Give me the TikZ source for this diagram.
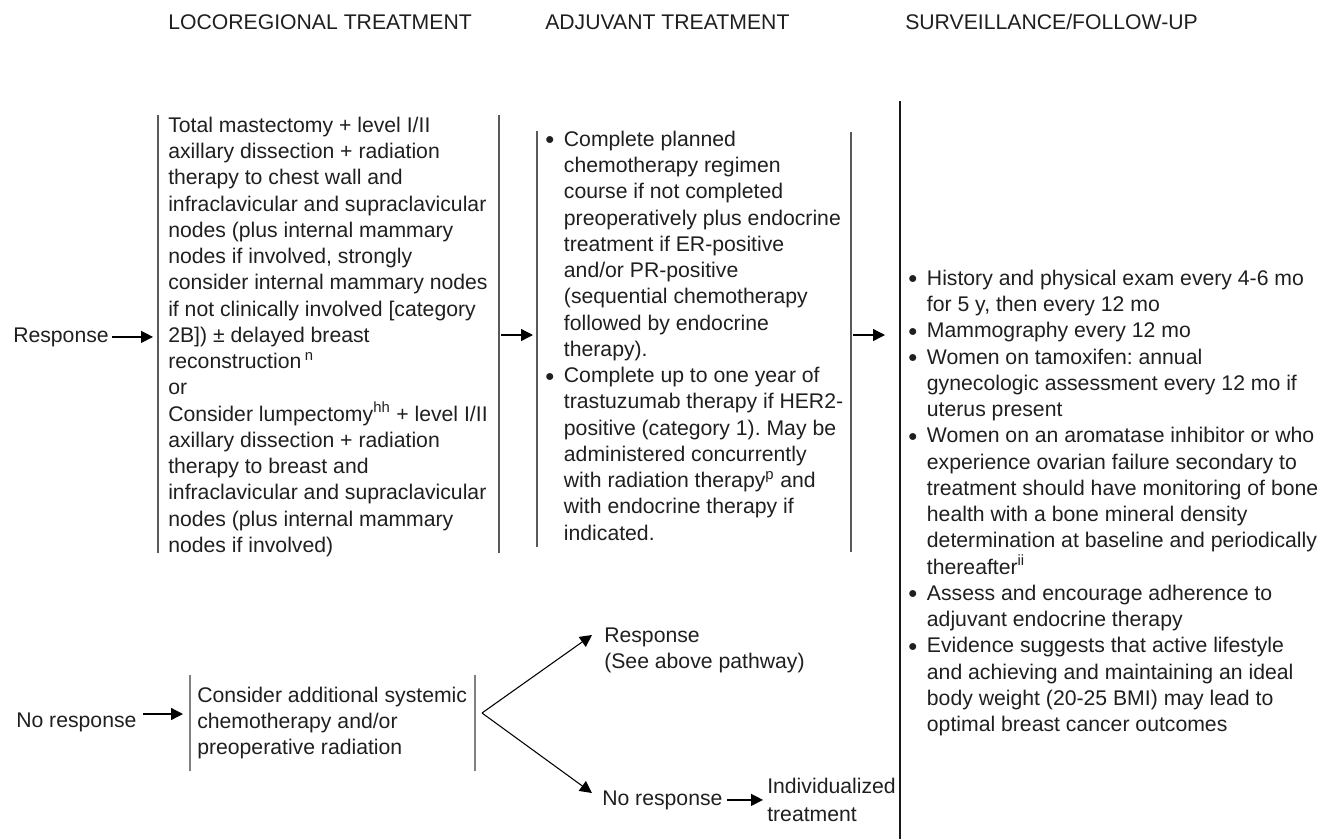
\documentclass[tikz,border=0pt]{standalone}
\usepackage{fontspec}
\setmainfont{Liberation Sans}
\usetikzlibrary{arrows.meta}
\frenchspacing

\newcommand{\bodyfont}{\fontsize{15.9}{19.7}\selectfont}
\newcommand{\bul}{\makebox[14pt][l]{\raisebox{1.2pt}{\scalebox{0.78}{$\bullet$}}}}
\newcommand{\ind}{\hspace*{14pt}}

\begin{document}
\begin{tikzpicture}[x=0.75pt, y=-0.75pt,
  txt/.style={anchor=north west, inner sep=0pt, align=left, font=\bodyfont, text=black!88},
  lbl/.style={anchor=base west, inner sep=0pt, font=\bodyfont, text=black!88},
  bar/.style={line width=1pt, black!65},
  arr/.style={line width=1pt, -{Triangle[length=9pt,width=9pt]}},
  fork/.style={line width=0.8pt, -{Triangle[length=9pt,width=9pt]}}]
  \useasboundingbox (0,0) rectangle (1338,839);

  \node[lbl] (h1) at (168,29) {LOCOREGIONAL TREATMENT};
  \node[lbl] (h2) at (545,29) {ADJUVANT TREATMENT};
  \node[lbl] (h3) at (905,29) {SURVEILLANCE/FOLLOW-UP};

  \node[lbl] (resp) at (13,342) {Response};
  \node[txt] (loco) at (168,113.6) {\strut Total mastectomy + level I/II\\
    axillary dissection + radiation\\
    therapy to chest wall and\\
    infraclavicular and supraclavicular\\
    nodes (plus internal mammary\\
    nodes if involved, strongly\\
    consider internal mammary nodes\\
    if not clinically involved [category\\
    2B]) ± delayed breast\\
    reconstruction\,\textsuperscript{n}\\
    or\\
    Consider lumpectomy\textsuperscript{hh} + level I/II\\
    axillary dissection + radiation\\
    therapy to breast and\\
    infraclavicular and supraclavicular\\
    nodes (plus internal mammary\\
    nodes if involved)};
  \node[txt] (adj) at (545,127.6) {\strut\bul Complete planned\\
    \ind chemotherapy regimen\\
    \ind course if not completed\\
    \ind preoperatively plus endocrine\\
    \ind treatment if ER-positive\\
    \ind and/or PR-positive\\
    \ind (sequential chemotherapy\\
    \ind followed by endocrine\\
    \ind therapy).\\
    \bul Complete up to one year of\\
    \ind trastuzumab therapy if HER2-\\
    \ind positive (category 1). May be\\
    \ind administered concurrently\\
    \ind with radiation therapy\textsuperscript{p} and\\
    \ind with endocrine therapy if\\
    \ind indicated.};
  \node[txt] (surv) at (908,266.6) {\strut\bul History and physical exam every 4-6 mo\\
    \ind for 5 y, then every 12 mo\\
    \bul Mammography every 12 mo\\
    \bul Women on tamoxifen: annual\\
    \ind gynecologic assessment every 12 mo if\\
    \ind uterus present\\
    \bul Women on an aromatase inhibitor or who\\
    \ind experience ovarian failure secondary to\\
    \ind treatment should have monitoring of bone\\
    \ind health with a bone mineral density\\
    \ind determination at baseline and periodically\\
    \ind thereafter\textsuperscript{ii}\\
    \bul Assess and encourage adherence to\\
    \ind adjuvant endocrine therapy\\
    \bul Evidence suggests that active lifestyle\\
    \ind and achieving and maintaining an ideal\\
    \ind body weight (20-25 BMI) may lead to\\
    \ind optimal breast cancer outcomes};

  \node[lbl] (nr) at (16,727) {No response};
  \node[txt] (sys) at (197,683.6) {\strut Consider additional systemic\\
    chemotherapy and/or\\
    preoperative radiation};
  \node[txt] (r2) at (604,623.6) {\strut Response\\(See above pathway)};
  \node[lbl] (nr2) at (602,805) {No response};
  \node[txt, font=\fontsize{15.9}{21}\selectfont] (indiv) at (767,773.4) {\strut Individualized\\treatment};

  \draw[bar] (158,115) -- (158,553);
  \draw[bar] (499,115) -- (499,553);
  \draw[bar] (537,131) -- (537,547);
  \draw[bar] (851,132) -- (851,552);
  \draw[line width=1.2pt, black!90] (900,101) -- (900,839);
  \draw[bar, black!50] (190,675) -- (190,771);
  \draw[bar, black!50] (475,675) -- (475,771);

  \coordinate (b1l) at (153,335);
  \coordinate (b1r) at (501,335);
  \coordinate (b2l) at (533,335);
  \coordinate (b2r) at (853,335);
  \coordinate (b3l) at (885,335);
  \coordinate (b4l) at (183,714);
  \coordinate (fk) at (482,713);
  \coordinate (up) at (592,635);
  \coordinate (dn) at (592,793);

  \draw[arr, shorten <=2pt] (resp.east) -- (resp.east -| b1l);
  \draw[arr] (b1r) -- (b2l);
  \draw[arr] (b2r) -- (b3l);
  \draw[arr, shorten <=5pt] (nr.east |- b4l) -- (b4l);
  \draw[fork] (fk) -- (up);
  \draw[fork] (fk) -- (dn);
  \draw[arr, shorten <=3.5pt, shorten >=3pt] (nr2.east) -- (nr2.east -| indiv.west);
\end{tikzpicture}
\end{document}
